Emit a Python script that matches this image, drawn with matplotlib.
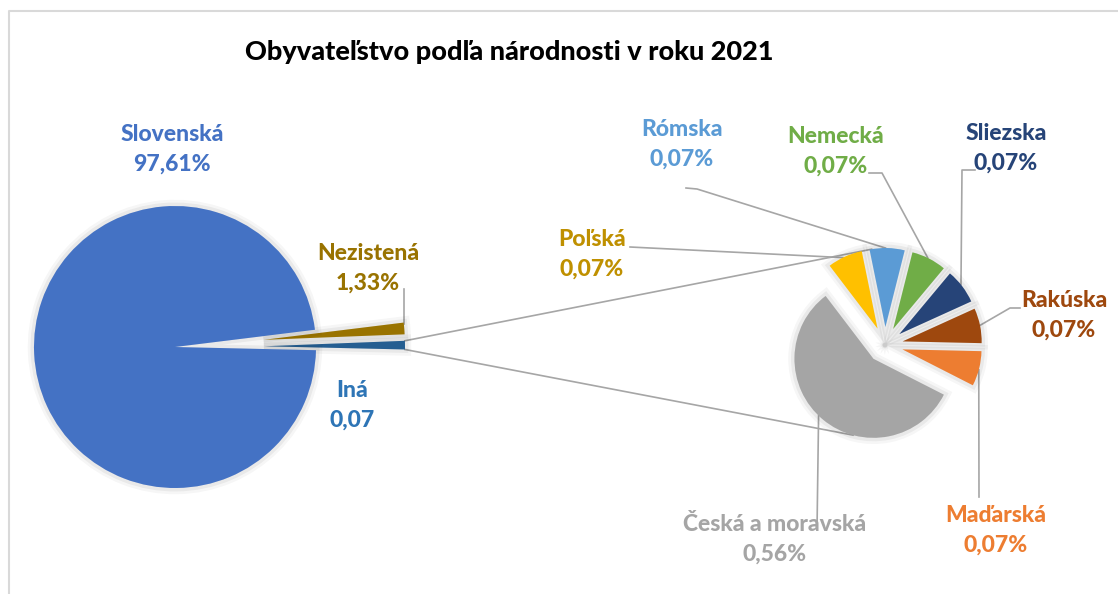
import numpy as np
import matplotlib.pyplot as plt
from matplotlib import patheffects as pe

W, H = 1118, 594

TITLE = "Obyvateľstvo podľa národnosti v roku 2021"

# druhý (pravý) koláč - rozpad skupiny "Iná"
SUB_LABELS = ["Maďarská", "Rakúska", "Sliezska", "Nemecká", "Rómska", "Poľská",
              "Česká a moravská"]
SUB_PCT = ["0,07%", "0,07%", "0,07%", "0,07%", "0,07%", "0,07%", "0,56%"]
SUB_VALUES = [0.07, 0.07, 0.07, 0.07, 0.07, 0.07, 0.56]
SUB_COLORS = ["#ED7D31", "#9E480E", "#264478", "#70AD47", "#5B9BD5", "#FFC000",
              "#A5A5A5"]
SUB_TEXT_COLORS = ["#ED7D31", "#9E480E", "#264478", "#70AD47", "#5B9BD5", "#BF9000",
                   "#A5A5A5"]

# hlavný (ľavý) koláč
MAIN_LABELS = ["Iná", "Nezistená", "Slovenská"]
MAIN_PCT = ["0,07", "1,33%", "97,61%"]
MAIN_VALUES = [sum(SUB_VALUES), 1.33, 97.61]
MAIN_COLORS = ["#255E91", "#997300", "#4472C4"]
MAIN_TEXT_COLORS = ["#2E75B6", "#997300", "#4472C4"]

FONT = ["Lato", "DejaVu Sans"]
WEIGHT = "black"
LINE_C = "#A6A6A6"


def py(y):
    # pixel y (zhora) -> súradnica osi
    return H - y


def arc_pt(w, ang):
    a = np.deg2rad(ang)
    cx, cy = w.center
    return cx + w.r * np.cos(a), cy + w.r * np.sin(a)


fig = plt.figure(figsize=(W / 100, H / 100), dpi=100)
ax = fig.add_axes([0, 0, 1, 1])

glow = [pe.Stroke(linewidth=9, foreground="#000000", alpha=0.035),
        pe.Stroke(linewidth=5, foreground="#000000", alpha=0.05),
        pe.Normal()]

main_w, _ = ax.pie(MAIN_VALUES, colors=MAIN_COLORS, startangle=-1.3,
                   center=(175, py(347)), radius=141, explode=[89, 89, 0],
                   wedgeprops=dict(linewidth=0, path_effects=glow))
sub_w, _ = ax.pie(SUB_VALUES, colors=SUB_COLORS, startangle=-27,
                  center=(885, py(345)), radius=79, explode=[18] * len(SUB_VALUES),
                  wedgeprops=dict(linewidth=0, path_effects=glow))

ax.set_xlim(0, W)
ax.set_ylim(0, H)
ax.set_aspect("equal")
ax.axis("off")

# spojnice medzi koláčmi
ina = main_w[0]
p1 = arc_pt(ina, ina.theta2)
p2 = arc_pt(ina, ina.theta1)
q1 = arc_pt(sub_w[4], 100)
q2 = arc_pt(sub_w[6], 255)
ax.plot([p1[0], q1[0]], [p1[1], q1[1]], color=LINE_C, lw=1.2, zorder=0.5)
ax.plot([p2[0], q2[0]], [p2[1], q2[1]], color=LINE_C, lw=1.2, zorder=0.5)

# popisky hlavného koláča
MAIN_POS = [(352, 405), (368, 268), (172, 149)]
for lab, pct, c, (x, y) in zip(MAIN_LABELS, MAIN_PCT, MAIN_TEXT_COLORS, MAIN_POS):
    ax.text(x, py(y), f"{lab}\n{pct}", color=c, fontsize=16.5, fontweight=WEIGHT,
            family=FONT, ha="center", va="center", linespacing=1.5)

# vodiaca čiara pre Nezistená
nez = main_w[1]
e = arc_pt(nez, nez.theta2 - 0.6)
ax.plot([e[0], e[0]], [py(289), e[1]], color=LINE_C, lw=1.2, zorder=0.5)

# popisky druhého koláča: pozícia textu, lomené body čiary, uhol na oblúku
SUB_POS = [(996, 530), (1064, 315), (1006, 148), (836, 151), (682, 144), (592, 254),
           (775, 539)]
SUB_LEAD = [[(979, 497)],
            [(1020, 308), (1010, 308)],
            [(975, 170), (962, 170)],
            [(869, 173), (882, 173)],
            [(686, 188), (697, 189)],
            [(630, 247)],
            [(817, 530)]]
SUB_ANG = [-15, 11.7, 38.7, 64, 90, 116, 226]

for w, lab, pct, c, (x, y), lead, ang in zip(sub_w, SUB_LABELS, SUB_PCT, SUB_TEXT_COLORS,
                                             SUB_POS, SUB_LEAD, SUB_ANG):
    end = arc_pt(w, ang)
    xs = [p[0] for p in lead] + [end[0]]
    ys = [py(p[1]) for p in lead] + [end[1]]
    ax.plot(xs, ys, color=LINE_C, lw=1.2, zorder=0.5)
    ax.text(x, py(y), f"{lab}\n{pct}", color=c, fontsize=16.5, fontweight=WEIGHT,
            family=FONT, ha="center", va="center", linespacing=1.5)

ax.text(509, py(52), TITLE, fontsize=19.5, fontweight=WEIGHT, family=FONT,
        ha="center", va="center", color="black")

# rám grafu
ax.plot([9, 9, W], [0, py(11), py(11)], color="#D9D9D9", lw=1.5, clip_on=False)

fig.savefig("out.png", dpi=100)
